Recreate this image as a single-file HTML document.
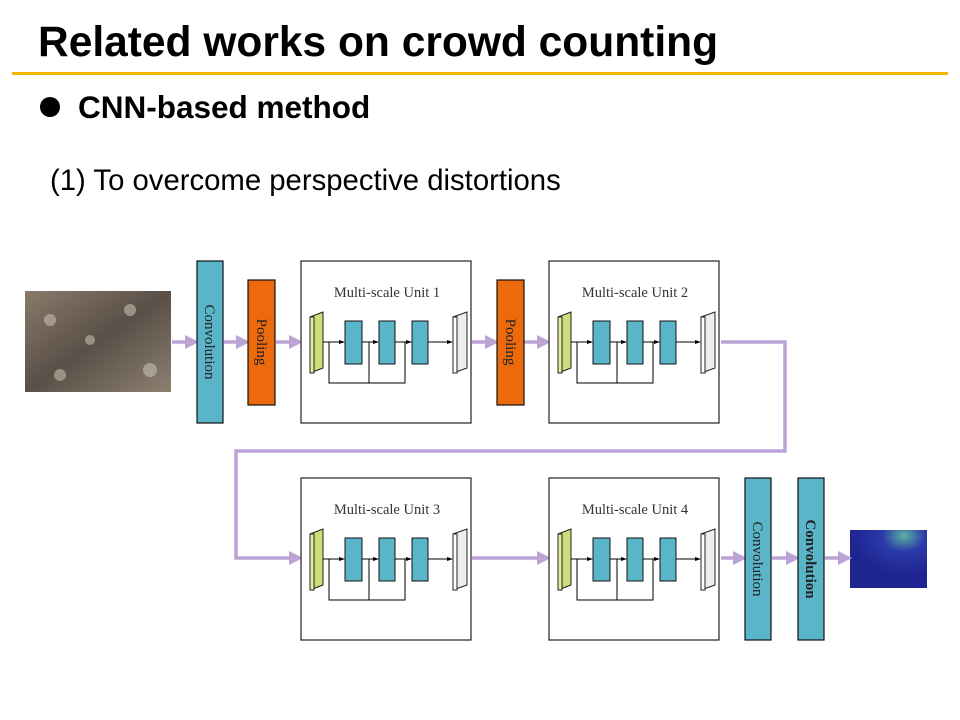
<!DOCTYPE html>
<html><head><style>
body{margin:0;width:960px;height:720px;background:#fff;overflow:hidden;font-family:"Liberation Sans",sans-serif;position:relative}
.t{position:absolute;left:38px;top:19px;font-size:42.5px;line-height:48px;font-weight:bold;color:#000;white-space:nowrap}
.line{position:absolute;left:12px;top:72px;width:936px;height:3px;background:#f0b800}
.b{position:absolute;left:78px;top:89px;font-size:31.5px;line-height:36px;font-weight:bold;white-space:nowrap}
.dot{position:absolute;left:40px;top:97px;width:20px;height:20px;border-radius:50%;background:#000}
.s{position:absolute;left:50px;top:164px;font-size:29.3px;line-height:34px;white-space:nowrap}
</style></head><body>
<div class="t">Related works on crowd counting</div>
<div class="line"></div>
<div class="dot"></div>
<div class="b">CNN-based method</div>
<div class="s">(1) To overcome perspective distortions</div>
<svg width="960" height="720" style="position:absolute;left:0;top:0" font-family="Liberation Serif,serif">
<defs>
<marker id="pa" markerWidth="4" markerHeight="4" refX="2" refY="2" orient="auto"><path d="M0,0L4,2L0,4z" fill="#bba3d6"/></marker>
<marker id="ka" markerWidth="6" markerHeight="6" refX="5" refY="3" orient="auto"><path d="M0,1L6,3L0,5z" fill="#000"/></marker>
<linearGradient id="cr" x1="0" y1="0" x2="1" y2="1"><stop offset="0" stop-color="#8a7a6a"/><stop offset="0.5" stop-color="#5a5048"/><stop offset="1" stop-color="#8c8070"/></linearGradient>
<radialGradient id="dm" cx="0.7" cy="0.1" r="0.7"><stop offset="0" stop-color="#5ab0a0"/><stop offset="0.4" stop-color="#2a3aa8"/><stop offset="1" stop-color="#1e2490"/></radialGradient>
</defs>
<rect x="25" y="291" width="146" height="101" fill="url(#cr)"/>
<g fill="#d8cfc0" opacity="0.5"><circle cx="50" cy="320" r="6"/><circle cx="90" cy="340" r="5"/><circle cx="130" cy="310" r="6"/><circle cx="150" cy="370" r="7"/><circle cx="60" cy="375" r="6"/></g>
<rect x="850" y="530" width="77" height="58" fill="url(#dm)"/>
<g stroke="#bba3d6" stroke-width="3.5" fill="none" marker-end="url(#pa)">
<line x1="172" y1="342" x2="192" y2="342"/>
<line x1="224" y1="342" x2="243" y2="342"/>
<line x1="276" y1="342" x2="296" y2="342"/>
<line x1="472" y1="342" x2="492" y2="342"/>
<line x1="524" y1="342" x2="544" y2="342"/>
<path d="M721,342H785V451H236V558H296"/>
<line x1="472" y1="558" x2="544" y2="558"/>
<line x1="721" y1="558" x2="740" y2="558"/>
<line x1="772" y1="558" x2="793" y2="558"/>
<line x1="825" y1="558" x2="845" y2="558"/>
</g>
<g stroke="#111" stroke-width="1.2">
<rect x="197" y="261" width="26" height="162" fill="#5bb5c8"/>
<rect x="248" y="280" width="27" height="125" fill="#ec6a0c"/>
<rect x="497" y="280" width="27" height="125" fill="#ec6a0c"/>
<rect x="745" y="478" width="26" height="162" fill="#5bb5c8"/>
<rect x="798" y="478" width="26" height="162" fill="#5bb5c8"/>
</g>
<g font-size="15" fill="#222" text-anchor="middle">
<text transform="translate(205,342) rotate(90)">Convolution</text>
<text transform="translate(257,342) rotate(90)">Pooling</text>
<text transform="translate(506,342) rotate(90)">Pooling</text>
<text transform="translate(753,559) rotate(90)">Convolution</text>
<text transform="translate(806,559) rotate(90)" font-weight="bold">Convolution</text>
</g>
<g id="u">
<rect x="301" y="261" width="170" height="162" fill="#fff" stroke="#222" stroke-width="1.2"/>
<polygon points="310,317 323,312 323,368 310,373" fill="#cfdc7a" stroke="#222"/>
<rect x="310" y="317" width="4" height="56" fill="#e6ee9a" stroke="#222"/>
<polygon points="453,317 467,312 467,368 453,373" fill="#eee" stroke="#222"/>
<rect x="453" y="317" width="4" height="56" fill="#fff" stroke="#222"/>
<g stroke="#000" fill="none" stroke-width="1">
<line x1="323" y1="342" x2="344" y2="342" marker-end="url(#ka)"/>
<line x1="362" y1="342" x2="378" y2="342" marker-end="url(#ka)"/>
<line x1="395" y1="342" x2="411" y2="342" marker-end="url(#ka)"/>
<line x1="428" y1="342" x2="452" y2="342" marker-end="url(#ka)"/>
<path d="M329,342V383H405V342M369,383V342"/>
</g>
<g fill="#5bb5c8" stroke="#111"><rect x="345" y="321" width="17" height="43"/><rect x="379" y="321" width="16" height="43"/><rect x="412" y="321" width="16" height="43"/></g>
</g>
<use href="#u" x="248"/><use href="#u" y="217"/><use href="#u" x="248" y="217"/>
<g font-size="14.5" fill="#333" text-anchor="middle">
<text x="387" y="297">Multi-scale Unit 1</text><text x="635" y="297">Multi-scale Unit 2</text>
<text x="387" y="514">Multi-scale Unit 3</text><text x="635" y="514">Multi-scale Unit 4</text>
</g>
</svg>
</body></html>
